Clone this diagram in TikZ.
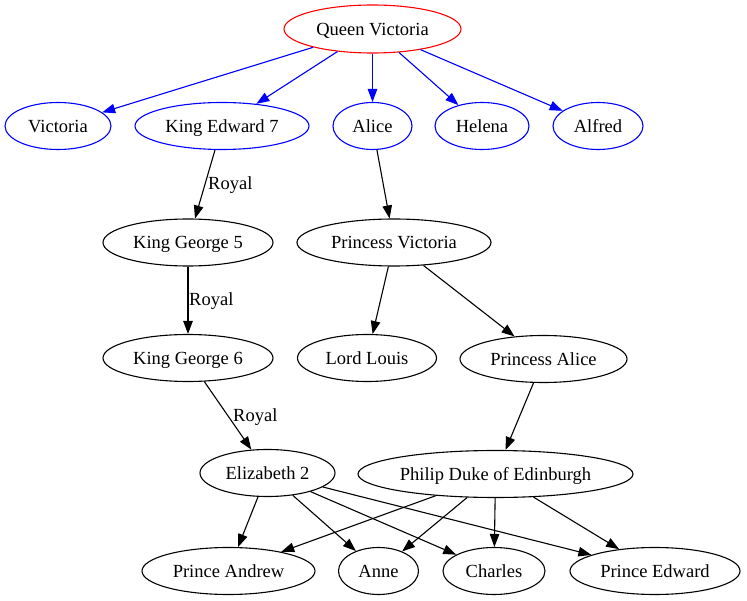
\documentclass[tikz,border=0pt]{standalone}
\usepackage{fontspec}
\setmainfont{Liberation Serif}
\usetikzlibrary{shapes.geometric,arrows.meta}
\tikzset{
  person/.style={ellipse, draw=black, line width=1.1pt, inner sep=0pt, minimum height=47pt,
    font=\fontsize{18.5}{22}\selectfont, text=black, text depth=0pt},
  blueperson/.style={person, draw={rgb,255:red,0;green,0;blue,255}},
  redperson/.style={person, draw={rgb,255:red,255;green,0;blue,0}},
  edge/.style={draw=black, line width=1.1pt, -{Triangle[length=13pt,width=9.5pt]}},
  blueedge/.style={edge, draw={rgb,255:red,0;green,0;blue,255}, fill={rgb,255:red,0;green,0;blue,255}},
  lbl/.style={anchor=west, inner sep=0pt, font=\fontsize{18.5}{22}\selectfont}
}
\begin{document}
\begin{tikzpicture}[x=1pt,y=-1pt]
\useasboundingbox[fill=white] (0,0) rectangle (747,601);
\node[redperson, minimum width=177pt, minimum height=48pt] (qv) at (372.5,29) {Queen Victoria};
\node[blueperson, minimum width=106pt] (v) at (58,126) {Victoria};
\node[blueperson, minimum width=174pt] (ke) at (222,126) {King Edward 7};
\node[blueperson, minimum width=79pt] (al) at (372.5,126) {Alice};
\node[blueperson, minimum width=94pt] (he) at (482,126) {Helena};
\node[blueperson, minimum width=90pt] (af) at (598,126) {Alfred};
\node[person, minimum width=170pt] (kg5) at (188,242.5) {King George 5};
\node[person, minimum width=194pt] (pv) at (394,242.5) {Princess Victoria};
\node[person, minimum width=170pt] (kg6) at (188,358) {King George 6};
\node[person, minimum width=139pt] (ll) at (367,358) {Lord Louis};
\node[person, minimum width=167pt] (pa) at (543.5,359) {Princess Alice};
\node[person, minimum width=135pt] (e2) at (267.5,473) {Elizabeth 2};
\node[person, minimum width=275pt] (ph) at (495.5,474) {Philip Duke of Edinburgh};
\node[person, minimum width=173pt] (an) at (228.5,571) {Prince Andrew};
\node[person, minimum width=80pt] (anne) at (378.5,571) {Anne};
\node[person, minimum width=102pt] (ch) at (494,571) {Charles};
\node[person, minimum width=170pt] (pe) at (655,571) {Prince Edward};

\node[lbl] (r1) at (208,185.5) {Royal};
\node[lbl] (r2) at (189,301.5) {Royal};
\node[lbl] (r3) at (233,417.5) {Royal};

\foreach \t in {v,ke,al,he,af}{\draw[blueedge] (qv) -- (\t);}
\draw[edge] (ke) -- (kg5);
\draw[edge] (kg5) -- (kg6);
\draw[edge] (kg6) -- (e2);
\draw[edge] (al) -- (pv);
\draw[edge] (pv) -- (ll);
\draw[edge] (pv) -- (pa);
\draw[edge] (pa) -- (ph);
\foreach \t in {an,anne,ch,pe}{\draw[edge] (e2) -- (\t); \draw[edge] (ph) -- (\t);}
\end{tikzpicture}
\end{document}
